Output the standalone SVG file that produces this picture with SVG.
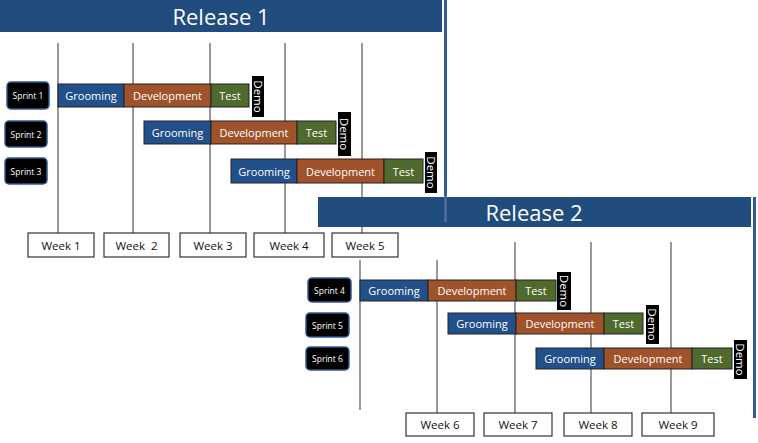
<svg xmlns="http://www.w3.org/2000/svg" width="758" height="443" viewBox="0 0 758 443">
<style>
.hdr{fill:#204C7E}
.hdrt{fill:#fff;font-family:"Open Sans","Liberation Sans",sans-serif;font-size:22px;text-anchor:middle;dominant-baseline:central}
.frame{stroke:#2F5B96;stroke-width:3;fill:none}
.vl{stroke:#333;stroke-width:1;fill:none}
.wk rect{fill:#fff;stroke:#333;stroke-width:1.2}
.wk text{fill:#111;font-family:"Open Sans","Liberation Sans",sans-serif;font-size:11.5px;text-anchor:middle;dominant-baseline:central}
.sp rect{fill:#000;stroke:#2F5B96;stroke-width:1.5}
.sp text{fill:#fff;font-family:"Open Sans","Liberation Sans",sans-serif;font-size:8.5px;text-anchor:middle;dominant-baseline:central}
.g{fill:#22508A;stroke:#222;stroke-width:1}
.d{fill:#A0522A;stroke:#222;stroke-width:1}
.t{fill:#4F6A2C;stroke:#222;stroke-width:1}
.bt{fill:#fff;font-family:"Open Sans","Liberation Sans",sans-serif;font-size:11px;text-anchor:middle;dominant-baseline:central}
.dm{fill:#000}
.dmt{fill:#fff;font-family:"Open Sans","Liberation Sans",sans-serif;font-size:11.5px;text-anchor:middle;dominant-baseline:central}
</style>

<g id="connectors">
  <line class="vl" x1="58" y1="43" x2="58" y2="233"/>
  <line class="vl" x1="133" y1="43" x2="133" y2="233"/>
  <line class="vl" x1="210" y1="43" x2="210" y2="233"/>
  <line class="vl" x1="285" y1="43" x2="285" y2="233"/>
  <line class="vl" x1="362" y1="43" x2="362" y2="233"/>
  <line class="vl" x1="360" y1="260" x2="360" y2="410"/>
  <line class="vl" x1="437" y1="260" x2="437" y2="413"/>
  <line class="vl" x1="515" y1="242" x2="515" y2="413"/>
  <line class="vl" x1="591" y1="242" x2="591" y2="413"/>
  <line class="vl" x1="671" y1="242" x2="671" y2="413"/>
</g>

<g id="release1">
  <rect class="hdr" x="0" y="0" width="442" height="32"/>
  <text class="hdrt" x="221" y="16">Release 1</text>
  <line class="frame" x1="445.5" y1="0" x2="445.5" y2="196"/>
</g>

<g id="sprint1">
  <g class="sp"><rect x="7" y="82" width="42" height="27" rx="4"/><text x="28" y="95.5">Sprint 1</text></g>
  <rect class="g" x="58" y="84" width="66" height="23"/><text class="bt" x="91" y="95.5">Grooming</text>
  <rect class="d" x="124" y="84" width="87" height="23"/><text class="bt" x="167.5" y="95.5">Development</text>
  <rect class="t" x="211" y="84" width="38" height="23"/><text class="bt" x="230" y="95.5">Test</text>
  <rect class="dm" x="252" y="76" width="12" height="41"/><text class="dmt" transform="translate(258,96.5) rotate(90)">Demo</text>
</g>
<g id="sprint2">
  <g class="sp"><rect x="5" y="121" width="42" height="26" rx="4"/><text x="26" y="134">Sprint 2</text></g>
  <rect class="g" x="144" y="121" width="67" height="23"/><text class="bt" x="177.5" y="132.5">Grooming</text>
  <rect class="d" x="211" y="121" width="86" height="23"/><text class="bt" x="254" y="132.5">Development</text>
  <rect class="t" x="297" y="121" width="39" height="23"/><text class="bt" x="316.5" y="132.5">Test</text>
  <rect class="dm" x="338" y="112" width="13" height="44"/><text class="dmt" transform="translate(344.5,134) rotate(90)">Demo</text>
</g>
<g id="sprint3">
  <g class="sp"><rect x="5" y="158" width="42" height="26" rx="4"/><text x="26" y="171">Sprint 3</text></g>
  <rect class="g" x="231" y="159" width="66" height="24"/><text class="bt" x="264" y="171">Grooming</text>
  <rect class="d" x="297" y="159" width="87" height="24"/><text class="bt" x="340.5" y="171">Development</text>
  <rect class="t" x="384" y="159" width="39" height="24"/><text class="bt" x="403.5" y="171">Test</text>
  <rect class="dm" x="425" y="152" width="12" height="41"/><text class="dmt" transform="translate(431,172.5) rotate(90)">Demo</text>
</g>

<g id="weeks1" class="wk">
  <g id="week1"><rect x="28" y="233" width="66" height="24"/><text x="61" y="245">Week 1</text></g>
  <g id="week2"><rect x="104" y="233" width="65" height="24"/><text x="136.5" y="245" xml:space="preserve">Week  2</text></g>
  <g id="week3"><rect x="180" y="233" width="66" height="24"/><text x="213" y="245">Week 3</text></g>
  <g id="week4"><rect x="254" y="233" width="70" height="24"/><text x="289" y="245">Week 4</text></g>
  <g id="week5"><rect x="332" y="233" width="66" height="24"/><text x="365" y="245">Week 5</text></g>
</g>

<g id="release2">
  <rect class="hdr" x="318" y="197" width="433" height="30"/>
  <line x1="445.5" y1="196" x2="445.5" y2="222" stroke="#4F6E9A" stroke-width="2.5"/>
  <text class="hdrt" x="534" y="212">Release 2</text>
  <line class="frame" x1="754.5" y1="197" x2="754.5" y2="418"/>
</g>

<g id="sprint4">
  <g class="sp"><rect x="308" y="278" width="43" height="24" rx="4"/><text x="329.5" y="290">Sprint 4</text></g>
  <rect class="g" x="360" y="280" width="68" height="21"/><text class="bt" x="394" y="290.5">Grooming</text>
  <rect class="d" x="428" y="280" width="88" height="21"/><text class="bt" x="472" y="290.5">Development</text>
  <rect class="t" x="516" y="280" width="40" height="21"/><text class="bt" x="536" y="290.5">Test</text>
  <rect class="dm" x="557" y="272" width="14" height="38"/><text class="dmt" transform="translate(564,291) rotate(90)">Demo</text>
</g>
<g id="sprint5">
  <g class="sp"><rect x="306" y="313" width="43" height="24" rx="4"/><text x="327.5" y="325">Sprint 5</text></g>
  <rect class="g" x="448" y="313" width="68" height="21"/><text class="bt" x="482" y="323.5">Grooming</text>
  <rect class="d" x="516" y="313" width="88" height="21"/><text class="bt" x="560" y="323.5">Development</text>
  <rect class="t" x="604" y="313" width="39" height="21"/><text class="bt" x="623.5" y="323.5">Test</text>
  <rect class="dm" x="646" y="305" width="13" height="39"/><text class="dmt" transform="translate(652.5,324.5) rotate(90)">Demo</text>
</g>
<g id="sprint6">
  <g class="sp"><rect x="306" y="347" width="43" height="23" rx="4"/><text x="327.5" y="358.5">Sprint 6</text></g>
  <rect class="g" x="536" y="348" width="68" height="21"/><text class="bt" x="570" y="358.5">Grooming</text>
  <rect class="d" x="604" y="348" width="88" height="21"/><text class="bt" x="648" y="358.5">Development</text>
  <rect class="t" x="692" y="348" width="40" height="21"/><text class="bt" x="712" y="358.5">Test</text>
  <rect class="dm" x="734" y="340" width="13" height="39"/><text class="dmt" transform="translate(740.5,359.5) rotate(90)">Demo</text>
</g>

<g id="weeks2" class="wk">
  <g id="week6"><rect x="406" y="413" width="68" height="23"/><text x="440" y="424.5">Week 6</text></g>
  <g id="week7"><rect x="484" y="413" width="68" height="23"/><text x="518" y="424.5">Week 7</text></g>
  <g id="week8"><rect x="564" y="413" width="68" height="23"/><text x="598" y="424.5">Week 8</text></g>
  <g id="week9"><rect x="642" y="413" width="72" height="23"/><text x="678" y="424.5">Week 9</text></g>
</g>
</svg>
